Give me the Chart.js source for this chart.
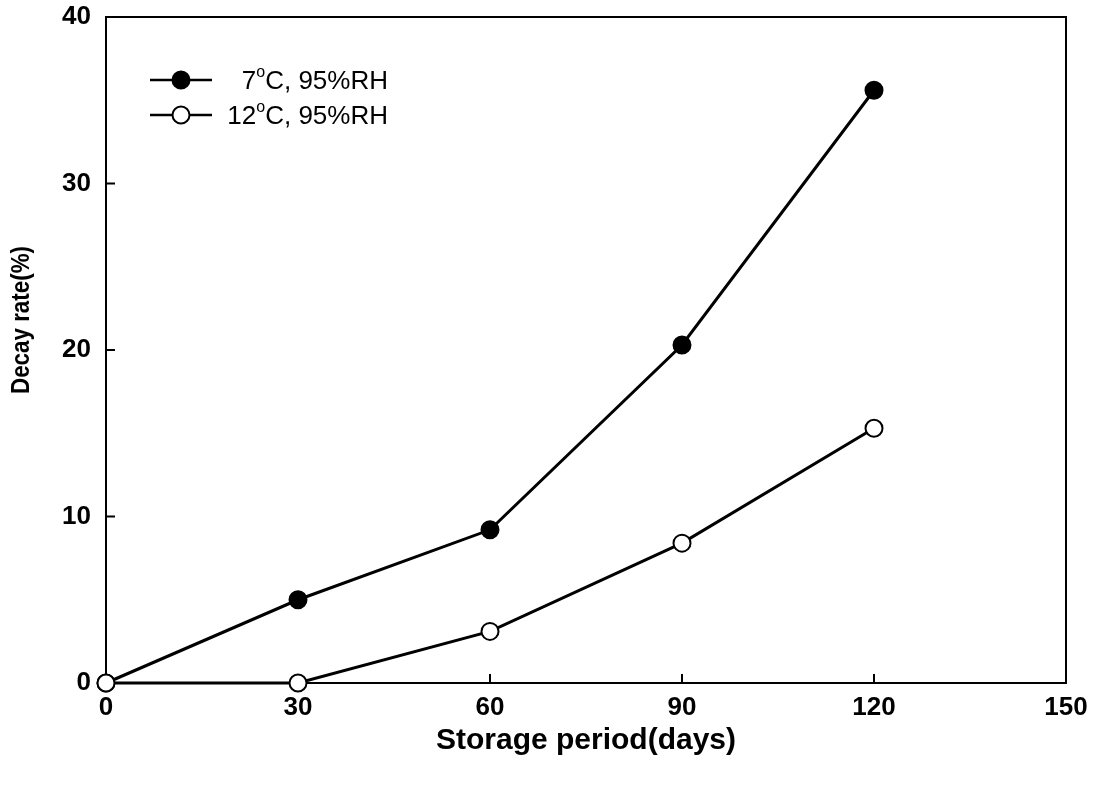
<!DOCTYPE html>
<html>
<head>
<meta charset="utf-8">
<script src="https://cdn.jsdelivr.net/npm/chart.js@4/dist/chart.umd.min.js"></script>
<style>
  html, body { margin: 0; padding: 0; background: #fff; }
  #wrap { width: 1100px; height: 789px; position: relative; }
</style>
</head>
<body>
<div id="wrap"><canvas id="chart_decayRate"></canvas></div>
<script>
// values
var days = [0, 30, 60, 90, 120];
var decay7C = [0, 5.0, 9.2, 20.3, 35.6];
var decay12C = [0, 0, 3.1, 8.4, 15.3];
var xTicks = [0, 30, 60, 90, 120, 150];
var yTicks = [0, 10, 20, 30, 40];
var seriesNames = [['7', 'C, 95%RH'], ['12', 'C, 95%RH']];
var yTitle = 'Decay rate(%)';

var FONT = '"Liberation Sans", Arial, sans-serif';

function points(ys) {
    return days.map(function(d, i) { return { x: d, y: ys[i] }; });
}

var framePlugin = {
    id: 'frameAndTicks',
    beforeDatasetsDraw: function(chart) {
        var ctx = chart.ctx;
        var a = chart.chartArea;
        var xs = chart.scales.x, ys = chart.scales.y;
        ctx.save();
        ctx.strokeStyle = '#000';
        ctx.lineWidth = 2;
        ctx.strokeRect(a.left, a.top, a.right - a.left, a.bottom - a.top);
        // inward tick marks
        ctx.beginPath();
        xTicks.forEach(function(v) {
            var px = xs.getPixelForValue(v);
            ctx.moveTo(px, a.bottom);
            ctx.lineTo(px, a.bottom - 9);
        });
        yTicks.forEach(function(v) {
            var py = ys.getPixelForValue(v);
            ctx.moveTo(a.left, py);
            ctx.lineTo(a.left + 9, py);
        });
        ctx.stroke();

        // y axis title, sits a little above the middle of the axis
        ctx.translate(22, 320);
        ctx.rotate(-Math.PI / 2);
        ctx.font = 'bold 25px ' + FONT;
        ctx.fillStyle = '#000';
        ctx.textAlign = 'center';
        ctx.textBaseline = 'middle';
        ctx.fillText(yTitle, 0, 0, 148);
        ctx.restore();
    },
    afterDatasetsDraw: function(chart) {
        var ctx = chart.ctx;
        ctx.save();
        ctx.strokeStyle = '#000';
        // legend inside the plot, top-left
        [decaySets[0], decaySets[1]].forEach(function(ds, i) {
            var cy = 80 + i * 35;
            ctx.lineWidth = 2.5;
            ctx.beginPath();
            ctx.moveTo(150, cy);
            ctx.lineTo(212, cy);
            ctx.stroke();
            ctx.beginPath();
            ctx.arc(181, cy, 8.5, 0, Math.PI * 2);
            ctx.fillStyle = ds.pointBackgroundColor;
            ctx.fill();
            ctx.lineWidth = 2;
            ctx.stroke();

            var parts = seriesNames[i];
            ctx.fillStyle = '#000';
            ctx.textAlign = 'left';
            ctx.textBaseline = 'alphabetic';
            ctx.font = '26px ' + FONT;
            var w0 = ctx.measureText(parts[0]).width;
            var w2 = ctx.measureText(parts[1]).width;
            ctx.font = '16px ' + FONT;
            var w1 = ctx.measureText('o').width;
            var right = 388;
            var x0 = right - w2 - w1 - w0;
            var base = cy + 9;
            ctx.font = '26px ' + FONT;
            ctx.fillText(parts[0], x0, base);
            ctx.font = '16px ' + FONT;
            ctx.fillText('o', x0 + w0, base - 12);
            ctx.font = '26px ' + FONT;
            ctx.fillText(parts[1], x0 + w0 + w1, base);
        });
        ctx.restore();
    }
};

var decaySets = [
    {
        label: '7°C, 95%RH',
        data: points(decay7C),
        borderColor: '#000',
        borderWidth: 3,
        pointRadius: 8.5,
        pointBackgroundColor: '#000',
        pointBorderColor: '#000',
        pointBorderWidth: 2,
        tension: 0,
        clip: false,
        order: 1
    },
    {
        label: '12°C, 95%RH',
        data: points(decay12C),
        borderColor: '#000',
        borderWidth: 3,
        pointRadius: 8.5,
        pointBackgroundColor: '#fff',
        pointBorderColor: '#000',
        pointBorderWidth: 2,
        tension: 0,
        clip: false,
        order: 0
    }
];

var chart_decayRate = new Chart(document.getElementById('chart_decayRate'), {
    type: 'line',
    data: {
        datasets: decaySets
    },
    options: {
        animation: false,
        responsive: true,
        maintainAspectRatio: false,
        layout: {
            padding: { left: 0, right: 34, top: 17, bottom: 0 }
        },
        plugins: {
            legend: { display: false },
            tooltip: { enabled: false }
        },
        scales: {
            x: {
                type: 'linear',
                min: 0,
                max: 150,
                grid: { display: false },
                border: { display: false },
                ticks: {
                    stepSize: 30,
                    padding: 1,
                    color: '#000',
                    font: { family: FONT, size: 26, weight: 'bold' }
                },
                title: {
                    display: true,
                    text: 'Storage period(days)',
                    color: '#000',
                    font: { family: FONT, size: 30, weight: 'bold' },
                    padding: { top: 0, bottom: 30 }
                },
                afterFit: function(scale) { scale.height = 106; }
            },
            y: {
                type: 'linear',
                min: 0,
                max: 40,
                grid: { display: false },
                border: { display: false },
                ticks: {
                    stepSize: 10,
                    padding: 7,
                    color: '#000',
                    font: { family: FONT, size: 26, weight: 'bold' }
                },
                title: { display: false },
                afterFit: function(scale) {
                    scale.width = 106;
                    scale.paddingTop = 0;
                    scale.paddingBottom = 0;
                }
            }
        }
    },
    plugins: [framePlugin, {
        id: 'whiteBackground',
        beforeDraw: function(chart) {
            var ctx = chart.canvas.getContext('2d');
            ctx.save();
            ctx.globalCompositeOperation = 'destination-over';
            ctx.fillStyle = 'white';
            ctx.fillRect(0, 0, chart.canvas.width, chart.canvas.height);
            ctx.restore();
        }
    }]
});
</script>
</body>
</html>
